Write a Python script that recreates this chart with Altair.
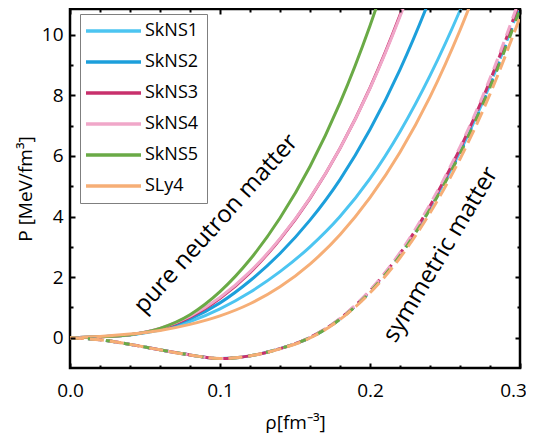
import altair as alt
import pandas as pd

FONT = "Open Sans"

rho = [0.00, 0.02, 0.04, 0.06, 0.08, 0.10, 0.12, 0.14, 0.16, 0.18, 0.20, 0.22, 0.24, 0.26, 0.28, 0.30]
models = ["SkNS1", "SkNS2", "SkNS3", "SkNS4", "SkNS5", "SLy4"]
colors = ["#4cc5f1", "#1c9fdb", "#c8306c", "#f0a7c9", "#6aaa46", "#f6ae76"]
dashes = [[12, 7], [10, 8], [13, 6], [11, 7], [9, 9], [14, 6]]

# pure neutron matter pressure (MeV/fm^3)
pnm_skns1 = [0, 0.03, 0.09, 0.25, 0.53, 0.95, 1.50, 2.18, 3.00, 4.00, 5.25, 6.80, 8.65, 10.80, 13.25]
pnm_skns2 = [0, 0.03, 0.10, 0.28, 0.62, 1.15, 1.88, 2.78, 3.88, 5.22, 6.87, 8.85, 11.20, 13.90]
pnm_skns3 = [0, 0.03, 0.10, 0.30, 0.68, 1.30, 2.15, 3.25, 4.60, 6.25, 8.25, 10.65, 13.45]
pnm_skns4 = [0, 0.03, 0.10, 0.31, 0.71, 1.33, 2.18, 3.27, 4.61, 6.25, 8.23, 10.60, 13.35]
pnm_skns5 = [0, 0.03, 0.10, 0.31, 0.76, 1.52, 2.58, 3.95, 5.65, 7.75, 10.30, 13.30]
pnm_sly4 = [0, 0.04, 0.12, 0.24, 0.44, 0.72, 1.12, 1.68, 2.43, 3.40, 4.62, 6.12, 7.95, 10.15, 12.70]

# symmetric matter pressure (MeV/fm^3)
snm_skns1 = [0, -0.07, -0.22, -0.40, -0.57, -0.69, -0.60, -0.36, 0.00, 0.62, 1.53, 2.74, 4.28, 6.14, 8.36, 10.98]
snm_skns2 = [0, -0.07, -0.22, -0.40, -0.57, -0.69, -0.60, -0.36, 0.00, 0.62, 1.52, 2.73, 4.27, 6.12, 8.33, 10.95]
snm_skns3 = [0, -0.07, -0.22, -0.40, -0.57, -0.69, -0.60, -0.36, 0.01, 0.63, 1.55, 2.78, 4.35, 6.24, 8.48, 11.12]
snm_skns4 = [0, -0.07, -0.22, -0.40, -0.57, -0.69, -0.60, -0.36, 0.01, 0.64, 1.57, 2.81, 4.40, 6.30, 8.56, 11.22]
snm_skns5 = [0, -0.07, -0.22, -0.40, -0.57, -0.69, -0.60, -0.36, 0.00, 0.61, 1.51, 2.71, 4.24, 6.07, 8.26, 10.84]
snm_sly4 = [0, -0.07, -0.22, -0.40, -0.57, -0.69, -0.60, -0.37, -0.01, 0.60, 1.48, 2.64, 4.12, 5.90, 8.04, 10.58]

pnm = [pnm_skns1, pnm_skns2, pnm_skns3, pnm_skns4, pnm_skns5, pnm_sly4]
snm = [snm_skns1, snm_skns2, snm_skns3, snm_skns4, snm_skns5, snm_sly4]

x_major = [0.0, 0.1, 0.2]
x_last = [0.3]
x_minor = [0.02, 0.04, 0.06, 0.08, 0.12, 0.14, 0.16, 0.18, 0.22, 0.24, 0.26, 0.28]
y_major = [0, 2, 4, 6, 8, 10]
y_minor = [1, 3, 5, 7, 9]

notes = ["pure neutron matter", "symmetric matter"]
note_rho = [0.0975, 0.2473]
note_p = [3.75, 2.74]
note_angle = [312, 301]

pnm_rows, snm_rows = [], []
for m, pv, sv in zip(models, pnm, snm):
    for r, p in zip(rho, pv):
        pnm_rows.append({"model": m, "rho": r, "P": p})
    for r, p in zip(rho, sv):
        snm_rows.append({"model": m, "dash": m, "rho": r, "P": p})
pnm_df = pd.DataFrame(pnm_rows)
snm_df = pd.DataFrame(snm_rows)

dummy = pd.DataFrame({"rho": [0.0], "P": [0.0]})
ndf = pd.DataFrame({"text": notes, "rho": note_rho, "P": note_p, "angle": note_angle})

xs = alt.Scale(domain=[0, 0.3], nice=False, zero=False)
ys = alt.Scale(domain=[-1, 10.85], nice=False, zero=False)
cs = alt.Scale(domain=models, range=colors)


def tick_axis(orient, values, size):
    return alt.Axis(orient=orient, values=values, ticks=True, tickSize=size, offset=-size,
                    tickWidth=2, tickColor="#000000", tickOpacity=1, labels=False,
                    domain=False, grid=False, title=None, zindex=1)


legend = alt.Legend(
    orient="none", legendX=10, legendY=5, title=None, symbolType="M-2,0H8", symbolSize=121,
    symbolStrokeWidth=3.5, labelOffset=39, rowPadding=13,
    labelFontSize=18, labelFont=FONT, labelColor="black",
    strokeColor="#7f7f7f", padding=8, fillColor="white")

pnm_lines = alt.Chart(pnm_df).mark_line(clip=True, strokeWidth=3, interpolate="monotone").encode(
    x=alt.X("rho:Q", scale=xs, axis=alt.Axis(
        orient="bottom", values=x_major, format=".1f", ticks=True, tickSize=5, offset=-5,
        tickWidth=2, tickColor="#000000", domain=False, grid=False, labelFlush=False,
        labelFontSize=19, labelFont=FONT, labelColor="black", labelPadding=13,
        title="ρ[fm⁻³]", titleFontSize=19, titleFont=FONT, zindex=1,
        titleFontWeight="normal", titleColor="black", titlePadding=13)),
    y=alt.Y("P:Q", scale=ys, axis=alt.Axis(
        orient="left", values=y_major, ticks=True, tickSize=5, offset=-5, tickWidth=2,
        tickColor="#000000", domain=False, grid=False, labelFontSize=19, labelFont=FONT,
        labelColor="black", labelPadding=7, title="P [MeV/fm³]", titleFontSize=19, zindex=1,
        titleFont=FONT, titleFontWeight="normal", titleColor="black", titlePadding=6)),
    color=alt.Color("model:N", scale=cs, legend=legend),
)

snm_lines = alt.Chart(snm_df).mark_line(clip=True, strokeWidth=3, interpolate="monotone").encode(
    x=alt.X("rho:Q", scale=xs, axis=alt.Axis(
        orient="bottom", values=x_last, format=".1f", ticks=True, tickSize=5, offset=-5,
        tickWidth=2, tickColor="#000000", domain=False, grid=False, labelFlush=False,
        labelOffset=-7, labelFontSize=19, labelFont=FONT, labelColor="black",
        labelPadding=13, title=None, zindex=1)),
    y=alt.Y("P:Q", scale=ys, axis=None),
    color=alt.Color("model:N", scale=cs, legend=None),
    strokeDash=alt.StrokeDash("dash:N", scale=alt.Scale(domain=models, range=dashes), legend=None),
)

t1 = alt.Chart(dummy).mark_point(opacity=0).encode(
    x=alt.X("rho:Q", scale=xs, axis=tick_axis("bottom", x_minor, 3)),
    y=alt.Y("P:Q", scale=ys, axis=tick_axis("left", y_minor, 3)),
)
t2 = alt.Chart(dummy).mark_point(opacity=0).encode(
    x=alt.X("rho:Q", scale=xs, axis=tick_axis("top", x_major + x_last, 5)),
    y=alt.Y("P:Q", scale=ys, axis=tick_axis("right", y_major, 5)),
)
t3 = alt.Chart(dummy).mark_point(opacity=0).encode(
    x=alt.X("rho:Q", scale=xs, axis=tick_axis("top", x_minor, 3)),
    y=alt.Y("P:Q", scale=ys, axis=tick_axis("right", y_minor, 3)),
)

texts = alt.Chart(ndf).mark_text(font=FONT, fontSize=24, color="black", baseline="middle",
                                 align="center").encode(
    x=alt.X("rho:Q", scale=xs, axis=None),
    y=alt.Y("P:Q", scale=ys, axis=None),
    text="text:N",
    angle=alt.Angle("angle:Q", scale=None),
)

chart = alt.layer(pnm_lines, snm_lines, t1, t2, t3, texts).resolve_axis(
    x="independent", y="independent").resolve_legend(
    color="independent", strokeDash="independent").properties(
    width=450, height=359,
    autosize=alt.AutoSizeParams(type="none"),
    padding={"left": 62, "top": 1, "right": 6, "bottom": 67},
).configure_view(stroke="black", strokeWidth=2.5, fill="transparent")

chart.save("out.html", embed_options={"renderer": "svg", "actions": False})
